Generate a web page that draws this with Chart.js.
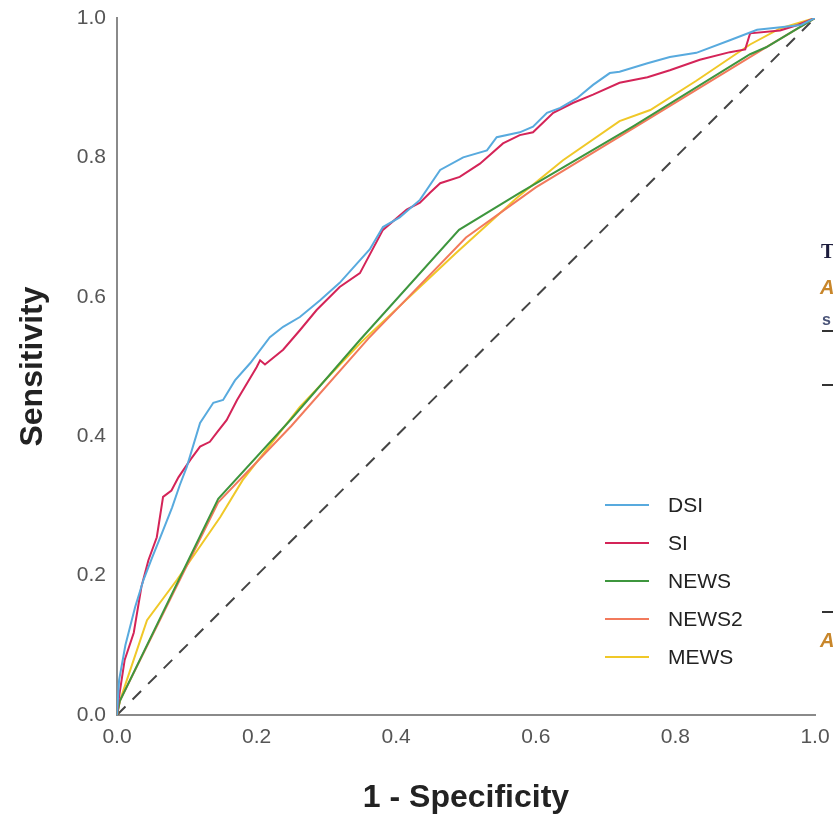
<!DOCTYPE html>
<html>
<head>
<meta charset="utf-8">
<script src="https://cdn.jsdelivr.net/npm/chart.js@4/dist/chart.umd.min.js"></script>
<style>
  body { margin: 0; background: #fff; }
  canvas { display: block; }
</style>
</head>
<body>
<canvas id="roc" width="833" height="817"></canvas>
<script>
// ROC curve values (x = 1 - specificity, y = sensitivity)
const dsiX = [0, 0.003, 0.012, 0.026, 0.038, 0.05, 0.062, 0.079, 0.09, 0.1, 0.119, 0.138, 0.152, 0.169, 0.191, 0.219, 0.238, 0.262, 0.291, 0.319, 0.344, 0.362, 0.381, 0.405, 0.434, 0.463, 0.496, 0.53, 0.544, 0.577, 0.596, 0.616, 0.635, 0.659, 0.682, 0.706, 0.72, 0.76, 0.792, 0.83, 0.878, 0.917, 0.954, 0.98, 1];
const dsiY = [0, 0.05, 0.1, 0.155, 0.194, 0.225, 0.255, 0.298, 0.33, 0.356, 0.419, 0.448, 0.452, 0.48, 0.505, 0.542, 0.557, 0.571, 0.595, 0.62, 0.648, 0.668, 0.7, 0.714, 0.739, 0.782, 0.8, 0.81, 0.829, 0.836, 0.844, 0.864, 0.871, 0.885, 0.904, 0.921, 0.923, 0.935, 0.944, 0.95, 0.968, 0.983, 0.987, 0.99, 1];

const siX = [0, 0.002, 0.011, 0.024, 0.035, 0.045, 0.057, 0.066, 0.078, 0.088, 0.105, 0.119, 0.133, 0.143, 0.157, 0.172, 0.2, 0.205, 0.212, 0.238, 0.262, 0.286, 0.319, 0.348, 0.381, 0.415, 0.434, 0.448, 0.463, 0.491, 0.52, 0.553, 0.577, 0.596, 0.625, 0.653, 0.682, 0.72, 0.76, 0.792, 0.835, 0.878, 0.9, 0.907, 0.95, 0.975, 1];
const siY = [0, 0.02, 0.079, 0.118, 0.184, 0.222, 0.255, 0.313, 0.322, 0.341, 0.366, 0.385, 0.392, 0.405, 0.423, 0.452, 0.499, 0.509, 0.503, 0.524, 0.552, 0.581, 0.614, 0.634, 0.696, 0.725, 0.735, 0.749, 0.763, 0.772, 0.791, 0.82, 0.832, 0.836, 0.864, 0.878, 0.89, 0.907, 0.915, 0.925, 0.94, 0.951, 0.955, 0.978, 0.982, 0.99, 1];

const newsX = [0, 0.004, 0.145, 0.25, 0.348, 0.49, 0.577, 0.74, 0.907, 0.93, 1];
const newsY = [0, 0.02, 0.31, 0.425, 0.538, 0.696, 0.749, 0.845, 0.948, 0.958, 1];

const news2X = [0, 0.004, 0.145, 0.25, 0.36, 0.5, 0.6, 0.75, 0.925, 1];
const news2Y = [0, 0.02, 0.305, 0.415, 0.54, 0.685, 0.757, 0.848, 0.955, 1];

const mewsX = [0, 0.004, 0.043, 0.086, 0.148, 0.18, 0.262, 0.35, 0.485, 0.573, 0.639, 0.72, 0.764, 0.83, 0.907, 0.95, 1];
const mewsY = [0, 0.02, 0.136, 0.194, 0.284, 0.337, 0.442, 0.535, 0.662, 0.742, 0.796, 0.852, 0.868, 0.91, 0.962, 0.985, 1];

const refX = [0, 1];
const refY = [0, 1];

const tickValues = [0, 0.2, 0.4, 0.6, 0.8, 1.0];

function pts(xs, ys) {
  return xs.map((x, i) => ({ x: x, y: ys[i] }));
}

function curve(label, xs, ys, color) {
  return {
    label: label,
    data: pts(xs, ys),
    borderColor: color,
    backgroundColor: color,
    borderWidth: 2,
    pointRadius: 0,
    tension: 0,
    fill: false
  };
}

// legend drawn inside the plot area, bottom right
const legendPlugin = {
  id: "insideLegend",
  afterDraw(chart) {
    const ctx = chart.ctx;
    ctx.save();
    ctx.font = "21px 'Liberation Sans', Arial, sans-serif";
    ctx.textBaseline = "middle";
    let y = 505;
    chart.data.datasets.forEach(ds => {
      if (!ds.label) return;
      ctx.strokeStyle = ds.borderColor;
      ctx.lineWidth = 2;
      ctx.beginPath();
      ctx.moveTo(605, y);
      ctx.lineTo(649, y);
      ctx.stroke();
      ctx.fillStyle = "#222";
      ctx.fillText(ds.label, 668, y + 1);
      y += 38;
    });
    ctx.restore();
  }
};

// bits of the neighbouring page that show at the right edge
const edgePlugin = {
  id: "edgeBits",
  afterDraw(chart) {
    const ctx = chart.ctx;
    ctx.save();
    ctx.textBaseline = "middle";
    ctx.font = "bold 20px 'Liberation Serif', serif";
    ctx.fillStyle = "#1c1c3c";
    ctx.fillText("T", 821, 253);
    ctx.font = "italic bold 20px 'Liberation Sans', sans-serif";
    ctx.fillStyle = "#c8862a";
    ctx.fillText("A", 820, 288);
    ctx.fillText("A", 820, 641);
    ctx.font = "bold 16px 'Liberation Sans', sans-serif";
    ctx.fillStyle = "#4a5478";
    ctx.fillText("s", 822, 321);
    ctx.strokeStyle = "#333";
    ctx.lineWidth = 2;
    [331, 385, 612].forEach(ly => {
      ctx.beginPath();
      ctx.moveTo(822, ly);
      ctx.lineTo(833, ly);
      ctx.stroke();
    });
    ctx.restore();
  }
};

const tickFont = { family: "'Liberation Sans', Arial, sans-serif", size: 21 };
const titleFont = { family: "'Liberation Sans', Arial, sans-serif", size: 32, weight: "bold" };

new Chart(document.getElementById("roc").getContext("2d"), {
  type: "line",
  data: {
    datasets: [
      curve("DSI", dsiX, dsiY, "rgb(88,170,222)"),
      curve("SI", siX, siY, "rgb(212,36,88)"),
      curve("NEWS", newsX, newsY, "rgb(62,150,62)"),
      curve("NEWS2", news2X, news2Y, "rgb(242,122,92)"),
      curve("MEWS", mewsX, mewsY, "rgb(240,200,40)"),
      {
        label: "",
        data: pts(refX, refY),
        borderColor: "#444",
        borderWidth: 2,
        borderDash: [12, 10],
        pointRadius: 0,
        fill: false
      }
    ]
  },
  options: {
    responsive: false,
    animation: false,
    layout: { padding: { top: 18, right: 18, left: 0, bottom: 0 } },
    plugins: {
      legend: { display: false },
      tooltip: { enabled: false }
    },
    scales: {
      x: {
        type: "linear",
        min: 0,
        max: 1,
        afterBuildTicks: s => { s.ticks = tickValues.map(v => ({ value: v })); },
        afterFit: s => { s.height = 102; s.paddingLeft = 0; s.paddingRight = 0; },
        grid: { display: false, drawTicks: false },
        border: { color: "#8a8a8a", width: 2 },
        ticks: {
          color: "#555",
          padding: 10,
          maxRotation: 0,
          font: tickFont,
          callback: v => v.toFixed(1)
        },
        title: {
          display: true,
          text: "1 - Specificity",
          color: "#222",
          padding: { top: 0, bottom: 0 },
          font: titleFont
        }
      },
      y: {
        type: "linear",
        min: 0,
        max: 1,
        afterBuildTicks: s => { s.ticks = tickValues.map(v => ({ value: v })); },
        afterFit: s => { s.width = 117; s.paddingTop = 0; s.paddingBottom = 0; },
        grid: { display: false, drawTicks: false },
        border: { color: "#8a8a8a", width: 2 },
        ticks: {
          color: "#555",
          padding: 11,
          font: tickFont,
          callback: v => v.toFixed(1)
        },
        title: {
          display: true,
          text: "Sensitivity",
          color: "#222",
          padding: { top: 14, bottom: 0 },
          font: titleFont
        }
      }
    }
  },
  plugins: [legendPlugin, edgePlugin]
});
</script>
</body>
</html>
